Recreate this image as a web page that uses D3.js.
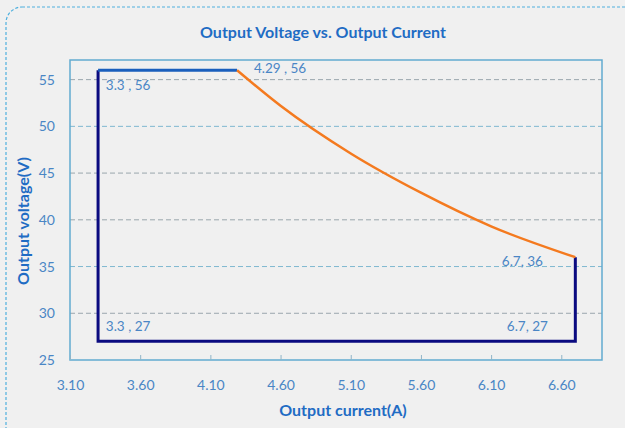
<!DOCTYPE html>
<html><head><meta charset="utf-8">
<script src="https://cdn.jsdelivr.net/npm/d3@7"></script>
<style>body{margin:0;background:#fff;}svg{display:block;}</style>
</head><body>
<svg id="c" width="625" height="428"></svg>
<script>
const xTicks = [3.10, 3.60, 4.10, 4.60, 5.10, 5.60, 6.10, 6.60];
const yTicks = [25, 30, 35, 40, 45, 50, 55];
// CV/limit boundary (blue)
const boundaryCurrent = [4.29, 3.3, 3.3, 6.7, 6.7];
const boundaryVoltage = [56, 56, 27, 27, 36];
// constant-power curve (orange)
const curveCurrent = [4.29, 4.6, 5.1, 5.6, 6.1, 6.7];
const curveVoltage = [56, 52.2, 47.1, 42.9, 39.3, 36];
const labels = ["3.3 , 56", "4.29 , 56", "6.7, 36", "3.3 , 27", "6.7, 27"];

const svg = d3.select("#c");
const font = "Lato, 'Open Sans', sans-serif";
const L = 70, R = 602, T = 60, B = 360;
const x = d3.scaleLinear().domain([3.10, 6.89]).range([L, R]);
const y = d3.scaleLinear().domain([25, 57.1]).range([B, T]);

svg.append("rect").attr("width",625).attr("height",428).attr("fill","#f0f0f0");
svg.append("rect").attr("x",6).attr("y",7).attr("width",640).attr("height",440).attr("rx",16)
  .attr("fill","none").attr("stroke","#4fb0de").attr("stroke-width",1.2).attr("stroke-dasharray","3,2");

svg.append("text").attr("x",323).attr("y",38).attr("text-anchor","middle")
  .attr("font-family",font).attr("font-weight","bold").attr("font-size",16).attr("fill","#1f6cc4")
  .text("Output Voltage vs. Output Current");

// gridlines
svg.append("g").selectAll("line").data(yTicks.filter(d=>d>25)).join("line")
  .attr("x1",L).attr("x2",R).attr("y1",d=>y(d)).attr("y2",d=>y(d))
  .attr("stroke",(d,i)=>i%3===1?"#7fb8d0":"#9aa6ad").attr("stroke-width",1).attr("stroke-dasharray","5,3");

// plot border
svg.append("rect").attr("x",L).attr("y",T).attr("width",R-L).attr("height",B-T)
  .attr("fill","none").attr("stroke","#62abd0").attr("stroke-width",1.5);

// axes
const xAxis = svg.append("g").attr("transform",`translate(0,${B})`)
  .call(d3.axisBottom(x).tickValues(xTicks).tickSize(-5).tickPadding(20).tickFormat(d3.format(".2f")));
const yAxis = svg.append("g").attr("transform",`translate(${L},0)`)
  .call(d3.axisLeft(y).tickValues(yTicks).tickSize(0).tickPadding(15));
[xAxis,yAxis].forEach(a=>{
  a.select(".domain").remove();
  a.selectAll(".tick line").attr("stroke","#8fb4c8");
  a.selectAll("text").attr("font-family",font).attr("font-size",14).attr("fill","#4a86c5");
});

svg.append("text").attr("x",343).attr("y",416).attr("text-anchor","middle")
  .attr("font-family",font).attr("font-weight","bold").attr("font-size",16).attr("fill","#1f6cc4")
  .text("Output current(A)");
svg.append("text").attr("transform","translate(29,221) rotate(-90)").attr("text-anchor","middle")
  .attr("font-family",font).attr("font-weight","bold").attr("font-size",16).attr("fill","#1f6cc4")
  .text("Output voltage(V)");

const bpts = boundaryCurrent.map((c,i)=>[c,boundaryVoltage[i]]);
const line = d3.line().x(d=>x(d[0])).y(d=>y(d[1]));
svg.append("path").attr("d",line(bpts.slice(1))).attr("fill","none")
  .attr("stroke","#0b0b80").attr("stroke-width",3).attr("stroke-linejoin","miter");
svg.append("path").attr("d",line(bpts.slice(0,2))).attr("fill","none")
  .attr("stroke","#1a5fbd").attr("stroke-width",3);
svg.append("path").attr("fill","none").attr("stroke","#f47a1f").attr("stroke-width",2.5)
  .attr("d", d3.line().curve(d3.curveMonotoneX).x(d=>x(d[0])).y(d=>y(d[1]))(curveCurrent.map((c,i)=>[c,curveVoltage[i]])));

// labels: [current, voltage, dx(center), dy(baseline)]
const lp = [[3.3,56,30,20],[4.29,56,43,3],[6.7,36,-53,9],[3.3,27,30,-10],[6.7,27,-48,-10]];
svg.append("g").selectAll("text").data(labels).join("text")
  .attr("x",(d,i)=>x(lp[i][0])+lp[i][2]).attr("y",(d,i)=>y(lp[i][1])+lp[i][3])
  .attr("text-anchor","middle")
  .attr("font-family",font).attr("font-size",13.5).attr("fill","#4a86c5").text(d=>d);
</script>
</body></html>
